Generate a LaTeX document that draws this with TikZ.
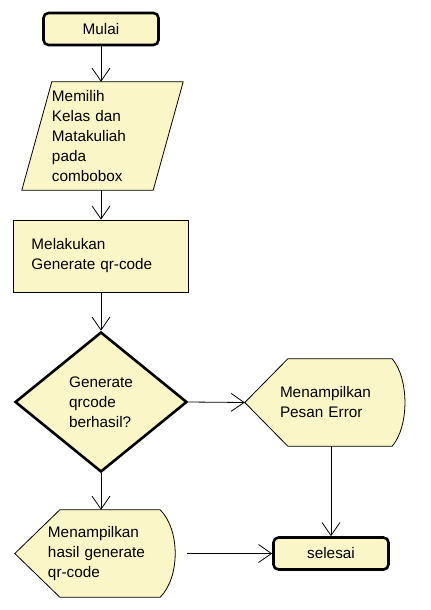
\documentclass[tikz,border=0pt]{standalone}
\usepackage{fontspec}
\setmainfont{Liberation Sans}
\usetikzlibrary{shapes.geometric,arrows.meta,backgrounds}
\definecolor{kuning}{RGB}{250,246,200}

\begin{document}
\begin{tikzpicture}[x=1bp,y=-1bp,font=\fontsize{15.3bp}{20bp}\selectfont,
    garis/.style={line width=0.8bp},
    panah/.style={garis,-{Straight Barb[length=13bp,width=18bp]}},
    terminal/.style={draw,fill=kuning,line width=2.6bp,rounded corners=5bp,minimum width=115bp,minimum height=32bp,inner sep=0},
    teks/.style={align=left,inner sep=0,text width=#1}]
            \useasboundingbox (0,0) rectangle (430,610);
            \node[terminal] (mulai) at (101,29) {Mulai};
            \node[teks=131bp,minimum height=108bp] (pilih) at (117.5,136) {Memilih\\Kelas dan\\Matakuliah\\pada\\combobox};
            \node[draw,fill=kuning,garis,align=left,text width=139bp,inner xsep=18bp,minimum height=72bp] (proses) at (101,256) {Melakukan\\Generate qr-code};
            \node[diamond,draw,fill=kuning,line width=2.6bp,minimum width=172bp,minimum height=140bp,inner sep=0,align=left] (cek) at (101,402) {Generate\\qrcode\\berhasil?};
            \node[teks=112bp,minimum height=87bp] (pesan) at (336,402.5) {Menampilkan\\Pesan Error};
            \node[teks=112bp,minimum height=87bp] (hasil) at (104,553.5) {Menampilkan\\hasil generate\\qr-code};
            \node[terminal] (selesai) at (331,553.5) {selesai};
            \coordinate (pesanujung) at ([xshift=-35bp]pesan.west);
            \coordinate (hasilujung) at ([xshift=-33bp]hasil.west);
            \begin{scope}[on background layer]
                \draw[garis,fill=kuning] (pilih.north west) -- (pilih.north east) -- ([xshift=-30bp]pilih.south east) -- ([xshift=-30bp]pilih.south west) -- cycle;
                \draw[garis,fill=kuning] (pesanujung) -- ([xshift=8bp]pesan.north west) -- (pesan.north east) .. controls ([xshift=17bp,yshift=-20bp]pesan.north east) and ([xshift=17bp,yshift=20bp]pesan.south east) .. (pesan.south east) -- ([xshift=8bp]pesan.south west) -- cycle;
                \draw[garis,fill=kuning] (hasilujung) -- ([xshift=12bp]hasil.north west) -- (hasil.north east) .. controls ([xshift=20bp,yshift=-20bp]hasil.north east) and ([xshift=20bp,yshift=20bp]hasil.south east) .. (hasil.south east) -- ([xshift=12bp]hasil.south west) -- cycle;
            \end{scope}
            \draw[panah] (mulai.south) -- (mulai.south |- pilih.north);
            \draw[panah] (proses.north |- pilih.south) -- (proses.north);
            \draw[panah] (proses.south) -- (cek.north);
            \draw[panah] (cek.east) -- (pesanujung);
            \draw[panah] (cek.south) -- (cek.south |- hasil.north);
            \draw[panah] (pesan.south -| selesai.north) -- (selesai.north);
            \draw[panah,shorten <=27bp] (hasil.east) -- (selesai.west);
        \end{tikzpicture}
\end{document}
